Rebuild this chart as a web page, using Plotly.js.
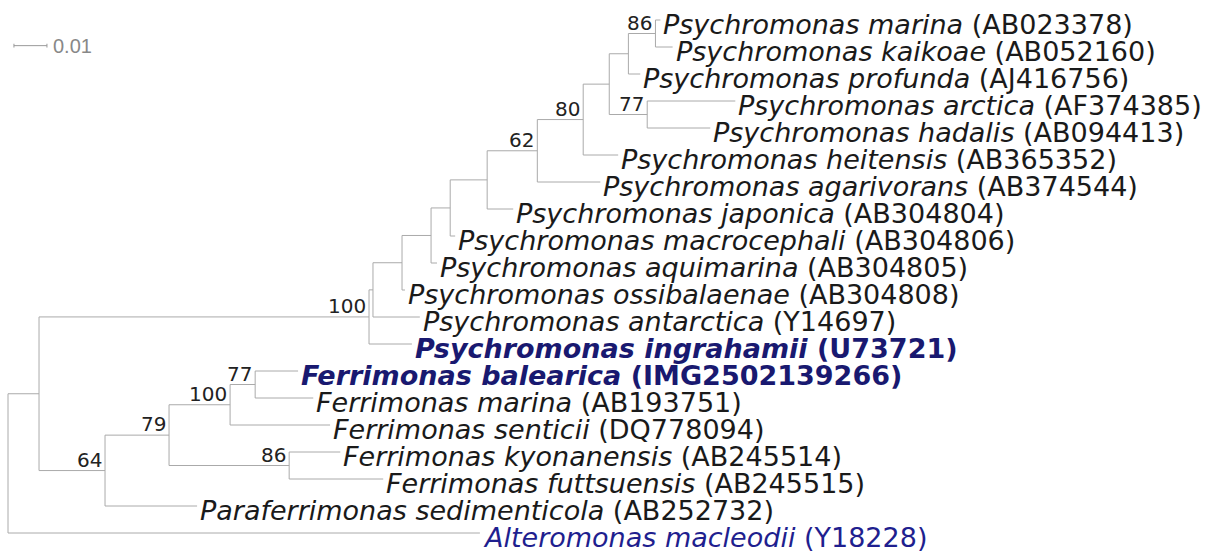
<!DOCTYPE html>
<html>
<head>
<meta charset="utf-8">
<script src="https://cdn.plot.ly/plotly-3.0.1.min.js"></script>
<style>html,body{margin:0;padding:0;background:#fff;}#chart{width:1206px;height:552px;}</style>
</head>
<body>
<div id="chart"></div>
<script>
// ---- Leaves (top to bottom) ----
const taxa = [
  'Psychromonas marina', 'Psychromonas kaikoae', 'Psychromonas profunda', 'Psychromonas arctica',
  'Psychromonas hadalis', 'Psychromonas heitensis', 'Psychromonas agarivorans', 'Psychromonas japonica',
  'Psychromonas macrocephali', 'Psychromonas aquimarina', 'Psychromonas ossibalaenae', 'Psychromonas antarctica',
  'Psychromonas ingrahamii', 'Ferrimonas balearica', 'Ferrimonas marina', 'Ferrimonas senticii',
  'Ferrimonas kyonanensis', 'Ferrimonas futtsuensis', 'Paraferrimonas sedimenticola', 'Alteromonas macleodii'
];
const accessions = [
  'AB023378', 'AB052160', 'AJ416756', 'AF374385', 'AB094413', 'AB365352', 'AB374544', 'AB304804',
  'AB304806', 'AB304805', 'AB304808', 'Y14697', 'U73721', 'IMG2502139266', 'AB193751', 'DQ778094',
  'AB245514', 'AB245515', 'AB252732', 'Y18228'
];
const leafStyle = ['', '', '', '', '', '', '', '', '', '', '', '', 'bold', 'bold', '', '', '', '', '', 'blue'];
const leafParent = ['n86a', 'n86a', 'nA', 'n77a', 'n77a', 'n80', 'n62', 'nC', 'nD', 'nE', 'nF', 'nG',
  'nP100', 'n77b', 'n77b', 'nF100', 'n86b', 'n86b', 'n64', 'root'];
const leafLen = [0.0015, 0.0052, 0.0036, 0.0267, 0.0191, 0.0106, 0.0191, 0.0079, 0.0015, 0.0018, 0.0009,
  0.0142, 0.0130, 0.0130, 0.0176, 0.0303, 0.0155, 0.0285, 0.0279, 0.1430];

// ---- Internal nodes ----
const nodeIds = ['root', 'nH', 'nP100', 'nG', 'nF', 'nE', 'nD', 'nC', 'n62', 'n80', 'nB', 'nA', 'n86a', 'n77a',
  'n64', 'n79', 'nF100', 'n77b', 'n86b'];
const nodeParent = [null, 'root', 'nH', 'nP100', 'nG', 'nF', 'nE', 'nD', 'nC', 'n62', 'n80', 'nB', 'nA', 'nB',
  'nH', 'n64', 'n79', 'nF100', 'n79'];
const nodeLen = [0, 0.0094, 0.1000, 0.0012, 0.0088, 0.0088, 0.0058, 0.0112, 0.0152, 0.0139, 0.0079, 0.0058,
  0.0082, 0.0115, 0.0200, 0.0194, 0.0185, 0.0076, 0.0364];
const nodeSupport = [null, null, 100, null, null, null, null, null, 62, 80, null, null, 86, 77, 64, 79, 100, 77, 86];

// ---- Scale bar ----
const scaleLen = 0.01;
const scaleLabel = '0.01';

// ---- Build tree geometry ----
const nodes = {};
nodeIds.forEach((id, i) => { nodes[id] = {id, parent: nodeParent[i], len: nodeLen[i], support: nodeSupport[i], children: [], leaf: false}; });
taxa.forEach((t, i) => {
  const id = 'leaf' + i;
  nodes[id] = {id, parent: leafParent[i], len: leafLen[i], children: [], leaf: true, row: i};
});
Object.values(nodes).forEach(n => { if (n.parent) nodes[n.parent].children.push(n.id); });
function setX(id, base) {
  const n = nodes[id]; n.x = base + n.len;
  n.children.forEach(c => setX(c, n.x));
}
setX('root', 0);
function setY(id) {
  const n = nodes[id];
  if (n.leaf) { n.y = n.row; return n.y; }
  const ys = n.children.map(setY);
  n.ymin = Math.min(...ys); n.ymax = Math.max(...ys);
  n.y = (n.ymin + n.ymax) / 2;
  return n.y;
}
setY('root');

const lx = [], ly = [];
Object.values(nodes).forEach(n => {
  if (n.parent) { const p = nodes[n.parent]; lx.push(p.x, n.x, null); ly.push(n.y, n.y, null); }
  if (!n.leaf) { lx.push(n.x, n.x, null); ly.push(n.ymin, n.ymax, null); }
});

// scale bar geometry
const sbX0 = 0.0018, sbY = 0.95, tick = 0.07;
const sbx = [sbX0, sbX0 + scaleLen, null, sbX0, sbX0, null, sbX0 + scaleLen, sbX0 + scaleLen];
const sby = [sbY, sbY, null, sbY - tick, sbY + tick, null, sbY - tick, sbY + tick];

const annotations = [];
taxa.forEach((t, i) => {
  const n = nodes['leaf' + i];
  let txt = '<i>' + t + '</i> (' + accessions[i] + ')';
  let color = '#1a1a1a';
  if (leafStyle[i] === 'bold') { txt = '<b>' + txt + '</b>'; color = '#191970'; }
  if (leafStyle[i] === 'blue') { color = '#1f1f8f'; }
  annotations.push({x: n.x, y: n.y, xref: 'x', yref: 'y', text: txt, showarrow: false,
    xanchor: 'left', yanchor: 'middle', xshift: 1, yshift: -4,
    font: {family: 'DejaVu Sans', size: 27, color: color}});
});
Object.values(nodes).forEach(n => {
  if (!n.leaf && n.support != null) {
    annotations.push({x: n.x, y: n.y, xref: 'x', yref: 'y', text: String(n.support), showarrow: false,
      xanchor: 'right', yanchor: 'middle', xshift: -1, yshift: 11,
      font: {family: 'DejaVu Sans', size: 20, color: '#222222'}});
  }
});
annotations.push({x: sbX0 + scaleLen, y: sbY, xref: 'x', yref: 'y', text: scaleLabel, showarrow: false,
  xanchor: 'left', yanchor: 'middle', xshift: 4, yshift: 0,
  font: {family: 'Liberation Sans', size: 20, color: '#888888'}});

const data = [
  {x: lx, y: ly, mode: 'lines', type: 'scatter', line: {color: '#aaaaaa', width: 1}, hoverinfo: 'skip', showlegend: false},
  {x: sbx, y: sby, mode: 'lines', type: 'scatter', line: {color: '#999999', width: 1}, hoverinfo: 'skip', showlegend: false}
];

const pxPerUnit = 3300;
const layout = {
  width: 1206, height: 552,
  margin: {l: 0, r: 0, t: 0, b: 0},
  paper_bgcolor: '#ffffff', plot_bgcolor: '#ffffff',
  xaxis: {range: [-8 / pxPerUnit, (1206 - 8) / pxPerUnit], visible: false, fixedrange: true},
  yaxis: {range: [(552 - 20) / 27, -20 / 27], visible: false, fixedrange: true},
  annotations: annotations,
  showlegend: false
};
Plotly.newPlot('chart', data, layout, {staticPlot: true});
</script>
</body>
</html>
